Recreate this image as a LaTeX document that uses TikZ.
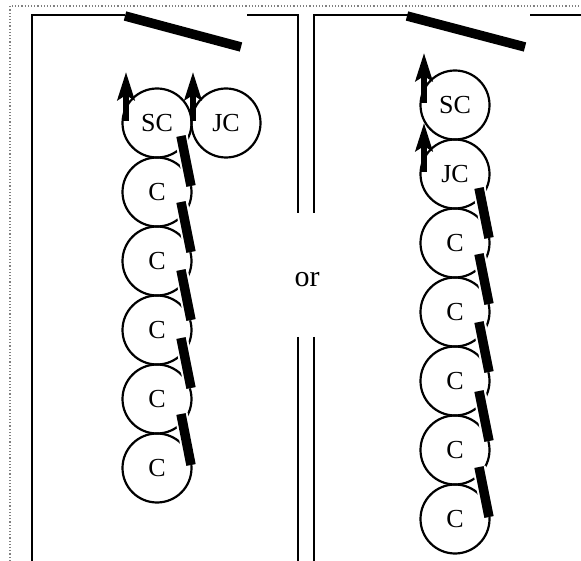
\documentclass[tikz,border=0pt]{standalone}
\usepackage{fontspec}
\setmainfont{Liberation Serif}
\usetikzlibrary{arrows.meta}
\begin{document}
\begin{tikzpicture}[x=1pt,y=-1pt,
  wall/.style={line width=2.8pt},
  cell/.style={circle,draw,line width=2.2pt,minimum size=69pt,inner sep=0pt,font=\fontsize{26}{31}\selectfont},
  door/.style={line width=9.5pt},
  bar/.style={draw=white,double=black,line width=2pt,double distance=9.5pt},
  up/.style={line width=5.5pt,-{Stealth[length=28pt,width=17pt,inset=5pt]}},
  ortext/.style={font=\fontsize{30}{36}\selectfont}]
\useasboundingbox (0,0) rectangle (581,561);
\draw[gray,dotted,line width=1.2pt] (10,561) -- (10,6) -- (581,6);
% walls
\draw[wall] (32,561) -- (32,15) -- (125,15);
\draw[wall] (247,15) -- (298,15) -- (298,213);
\draw[wall] (298,337) -- (298,561);
\draw[wall] (408,15) -- (314,15) -- (314,213);
\draw[wall] (314,337) -- (314,561);
\draw[wall] (530,15) -- (581,15);
% doors
\draw[door] (125,16) -- (241,47);
\draw[door] (407,16) -- (525,47);
\node[ortext] (or) at (307,280) {or};
% left column
\node[cell] (sc1) at (157,123) {SC};
\node[cell] (jc1) at (226,123) {JC};
\node[cell] (c11) at (157,192) {C};
\node[cell] (c12) at (157,261) {C};
\node[cell] (c13) at (157,330) {C};
\node[cell] (c14) at (157,399) {C};
\node[cell] (c15) at (157,468) {C};
\draw[bar] (181,136) -- (191,186);
\draw[bar] (181,202) -- (191,252);
\draw[bar] (181,270) -- (191,320);
\draw[bar] (181,338) -- (191,388);
\draw[bar] (181,414) -- (191,465);
\coordinate (a1s) at (126,121); \coordinate (a1e) at (126,72);
\coordinate (a2s) at (193,121); \coordinate (a2e) at (193,72);
\draw[up] (a1s) -- (a1e);
\draw[up] (a2s) -- (a2e);
% right column
\node[cell] (sc2) at (455,105) {SC};
\node[cell] (jc2) at (455,174) {JC};
\node[cell] (c21) at (455,243) {C};
\node[cell] (c22) at (455,312) {C};
\node[cell] (c23) at (455,381) {C};
\node[cell] (c24) at (455,450) {C};
\node[cell] (c25) at (455,519) {C};
\draw[bar] (479,188) -- (489,238);
\draw[bar] (479,254) -- (489,304);
\draw[bar] (479,322) -- (489,372);
\draw[bar] (479,391) -- (489,441);
\draw[bar] (479,467) -- (489,517);
\coordinate (b1s) at (424,103); \coordinate (b1e) at (424,53);
\coordinate (b2s) at (424,172); \coordinate (b2e) at (424,123);
\draw[up] (b1s) -- (b1e);
\draw[up] (b2s) -- (b2e);
\end{tikzpicture}
\end{document}
